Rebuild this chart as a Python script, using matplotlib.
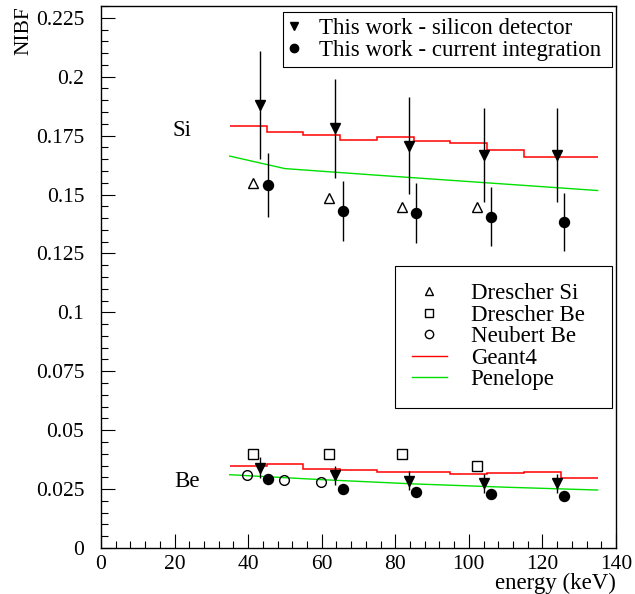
#!/usr/bin/env python3
import numpy as np
import matplotlib
matplotlib.use("Agg")
import matplotlib.pyplot as plt
from matplotlib.lines import Line2D
from matplotlib.ticker import MultipleLocator

plt.rcParams['font.family'] = ['Liberation Serif', 'DejaVu Serif']

# --- data ---
# this work, silicon detector
si_det_e = [43.3, 63.7, 83.6, 104.2, 123.9]
si_det_si = [0.1880, 0.1781, 0.1708, 0.1668, 0.1667]
si_det_si_err = [0.0230, 0.0210, 0.0205, 0.0200, 0.0200]
si_det_be = [0.0341, 0.0309, 0.0286, 0.0275, 0.0275]
si_det_be_err = [0.0045, 0.0040, 0.0040, 0.0040, 0.0040]

# this work, current integration
cur_e = [45.4, 65.8, 85.6, 106.1, 125.8]
cur_si = [0.1541, 0.1429, 0.1421, 0.1406, 0.1384]
cur_si_err = [0.0137, 0.0128, 0.0127, 0.0126, 0.0124]
cur_be = [0.0292, 0.0250, 0.0239, 0.0229, 0.0222]
cur_be_err = [0.0012, 0.0010, 0.0010, 0.0010, 0.0010]

# Drescher
dre_e = [41.4, 62.0, 81.7, 102.1]
dre_si = [0.1548, 0.1487, 0.1447, 0.1447]
dre_be = [0.0399, 0.0399, 0.0399, 0.0349]

# Neubert
neu_e = [39.8, 49.8, 59.8]
neu_be = [0.0310, 0.0287, 0.0279]

# Geant4 (histogram)
g4_edges = [35, 45, 55, 65, 75, 85, 95, 105, 115, 125, 135]
g4_si = [0.1790, 0.1766, 0.1752, 0.1733, 0.1742, 0.1729, 0.1719, 0.1688, 0.1661, 0.1661]
g4_be = [0.0348, 0.0355, 0.0337, 0.0331, 0.0323, 0.0323, 0.0313, 0.0317, 0.0321, 0.0298]

# Penelope
pen_e = [35, 50, 75, 100, 135]
pen_si = [0.1663, 0.1610, 0.1582, 0.1555, 0.1517]
pen_e_be = [35, 60, 85, 110, 135]
pen_be = [0.0311, 0.0290, 0.0272, 0.0258, 0.0246]

fs = 15.5
lfs = 16.5
fig = plt.figure(figsize=(6.35, 5.94), dpi=100)
ax = fig.add_axes([101 / 635, 46 / 594, 515 / 635, 542 / 594])

ax.stairs(g4_si, g4_edges, baseline=None, color='red', lw=1.1)
ax.stairs(g4_be, g4_edges, baseline=None, color='red', lw=1.1)
ax.plot(pen_e, pen_si, color='#00e000', lw=1.0)
ax.plot(pen_e_be, pen_be, color='#00e000', lw=1.0)

ebkw = dict(fmt='none', ecolor='black', elinewidth=1.0, capsize=0)
ax.errorbar(si_det_e, si_det_si, yerr=si_det_si_err, **ebkw)
ax.errorbar(si_det_e, si_det_be, yerr=si_det_be_err, **ebkw)
ax.errorbar(cur_e, cur_si, yerr=cur_si_err, **ebkw)
ax.errorbar(cur_e, cur_be, yerr=cur_be_err, **ebkw)

ax.plot(si_det_e, si_det_si, 'kv', ms=7.5, ls='none')
ax.plot(si_det_e, si_det_be, 'kv', ms=7.5, ls='none')
ax.plot(cur_e, cur_si, 'ko', ms=7.2, ls='none')
ax.plot(cur_e, cur_be, 'ko', ms=7.2, ls='none')
ax.plot(dre_e, dre_si, '^', ms=7.5, mfc='none', mec='black', mew=1.0, ls='none')
ax.plot(dre_e, dre_be, 's', ms=7, mfc='none', mec='black', mew=1.0, ls='none')
ax.plot(neu_e, neu_be, 'o', ms=7, mfc='none', mec='black', mew=1.0, ls='none')

ax.text(22, 0.177, 'Si', fontsize=lfs, ha='center', va='center')
ax.text(23.5, 0.0284, 'Be', fontsize=lfs, ha='center', va='center')

ax.set_xlim(0, 140)
ax.set_ylim(0, 0.23)
ax.xaxis.set_minor_locator(MultipleLocator(4))
ax.yaxis.set_minor_locator(MultipleLocator(0.005))
ax.set_xticks(np.arange(0, 141, 20))
ax.set_xticklabels([str(v) for v in range(0, 141, 20)])
ax.set_yticks(np.arange(0, 0.2251, 0.025))
ax.set_yticklabels(['0', '0.025', '0.05', '0.075', '0.1', '0.125', '0.15',
                    '0.175', '0.2', '0.225'])
ax.tick_params(which='both', direction='in', labelsize=fs, top=False, right=False)
ax.tick_params(which='major', length=10, width=0.8)
ax.tick_params(which='minor', length=5, width=0.8)
ax.tick_params(axis='x', pad=5)
ax.tick_params(axis='y', pad=12)
for s in ax.spines.values():
    s.set_linewidth(1.0)

ax.set_xlabel('energy (keV)', fontsize=16.5, loc='right', labelpad=-1)
ax.set_ylabel('NIBF', fontsize=fs, loc='top', labelpad=2)

h1 = [Line2D([], [], marker='v', color='black', ls='none', ms=6),
      Line2D([], [], marker='o', color='black', ls='none', ms=6)]
leg1 = ax.legend(h1, ['This work - silicon detector', 'This work - current integration'],
                 loc='upper left', bbox_to_anchor=(0.353, 0.989, 0.639, 0.0),
                 mode='expand', borderaxespad=0,
                 fancybox=False, edgecolor='black', fontsize=lfs, handlelength=0.5,
                 handletextpad=0.85, labelspacing=0.05, borderpad=0.25, framealpha=1)
leg1.get_frame().set_linewidth(0.8)
ax.add_artist(leg1)

h2 = [Line2D([], [], marker='^', mfc='none', mec='black', ls='none', ms=6),
      Line2D([], [], marker='s', mfc='none', mec='black', ls='none', ms=6),
      Line2D([], [], marker='o', mfc='none', mec='black', ls='none', ms=6),
      Line2D([], [], color='red', lw=1.0),
      Line2D([], [], color='#00e000', lw=1.0)]
leg2 = ax.legend(h2, ['Drescher Si', 'Drescher Be', 'Neubert Be', 'Geant4', 'Penelope'],
                 loc='upper left', bbox_to_anchor=(0.571, 0.520, 0.421, 0.0),
                 mode='expand', borderaxespad=0,
                 fancybox=False, edgecolor='black', fontsize=lfs, handlelength=1.5,
                 handletextpad=1.05, labelspacing=0.02, borderpad=0.75, framealpha=1)
leg2.get_frame().set_linewidth(0.8)

fig.savefig('out.png', dpi=100)
